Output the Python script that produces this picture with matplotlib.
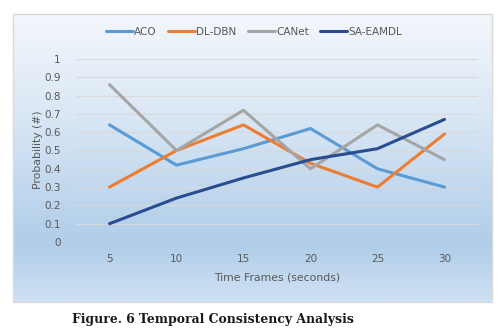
import numpy as np
import matplotlib
matplotlib.use("Agg")
import matplotlib.pyplot as plt
from matplotlib.colors import LinearSegmentedColormap
from matplotlib.patches import Rectangle

# Data
time_frames = ["5", "10", "15", "20", "25", "30"]
aco = [0.64, 0.42, 0.51, 0.62, 0.40, 0.30]
dl_dbn = [0.30, 0.50, 0.64, 0.43, 0.30, 0.59]
canet = [0.86, 0.50, 0.72, 0.40, 0.64, 0.45]
sa_eamdl = [0.10, 0.24, 0.35, 0.45, 0.51, 0.67]
series_names = ["ACO", "DL-DBN", "CANet", "SA-EAMDL"]
y_ticks = [0, 0.1, 0.2, 0.3, 0.4, 0.5, 0.6, 0.7, 0.8, 0.9, 1]

colors = ["#5b9bd5", "#ed7d31", "#a5a5a5", "#2a4d92"]
text_color = "#595959"

W, H = 502, 329
fig = plt.figure(figsize=(W / 100, H / 100), dpi=100)
fig.patch.set_facecolor("white")

def fx(px):
    return px / W

def fy(py):
    return 1 - py / H

# Chart area with vertical gradient fill
box_l, box_t, box_r, box_b = 13, 14, 492, 302
bg = fig.add_axes([fx(box_l), fy(box_b), fx(box_r - box_l), (box_b - box_t) / H])
grad_cmap = LinearSegmentedColormap.from_list(
    "fill",
    [(0.0, "#f4f7fc"), (0.35, "#dae7f5"), (0.80, "#b0cde9"), (1.0, "#cfe1f3")],
)
grad = np.linspace(0, 1, 256).reshape(-1, 1)
bg.imshow(grad, aspect="auto", cmap=grad_cmap, extent=[0, 1, 0, 1], origin="upper")
bg.set_xlim(0, 1)
bg.set_ylim(0, 1)
bg.axis("off")
bg.add_patch(Rectangle((0, 0), 1, 1, transform=bg.transAxes, fill=False,
                       edgecolor="#d9d9d9", linewidth=1.0, clip_on=False))

# Plot area
pl, pt, pr, pb = 76, 59, 478, 242
ax = fig.add_axes([fx(pl), fy(pb), fx(pr - pl), (pb - pt) / H])
ax.set_facecolor("none")
x = np.arange(len(time_frames))
for vals, name, c in zip([aco, dl_dbn, canet, sa_eamdl], series_names, colors):
    ax.plot(x, vals, color=c, linewidth=2.2, label=name, solid_capstyle="round")

ax.set_xlim(-0.5, len(time_frames) - 0.5)
ax.set_ylim(0, 1)
ax.set_xticks(x)
ax.set_xticklabels(time_frames)
ax.set_yticks(y_ticks)
ax.set_yticklabels([f"{v:g}" for v in y_ticks])
ax.tick_params(axis="both", length=0, labelsize=7.5, colors=text_color)
ax.tick_params(axis="x", pad=9)
ax.tick_params(axis="y", pad=11)
ax.grid(axis="y", color="#d9d9d9", linewidth=0.8)
ax.set_axisbelow(True)
for s in ax.spines.values():
    s.set_visible(False)

fig.text(fx(277), fy(278), "Time Frames (seconds)", ha="center", va="center",
         fontsize=7.8, color=text_color)
fig.text(fx(38), fy(150), "Probability (#)", ha="center", va="center",
         rotation=90, fontsize=7.8, color=text_color)

leg = fig.legend(loc="center", bbox_to_anchor=(fx(254), fy(32)), ncol=4,
                 frameon=False, fontsize=7.5, handlelength=2.6, handletextpad=0.15,
                 columnspacing=1.05)
for t in leg.get_texts():
    t.set_color(text_color)

fig.text(fx(72), fy(320), "Figure. 6 Temporal Consistency Analysis", ha="left",
         va="center", fontsize=8.9, fontweight="bold", family="DejaVu Serif",
         color="#1a1a1a")

fig.savefig("out.png", dpi=100, facecolor="white")
